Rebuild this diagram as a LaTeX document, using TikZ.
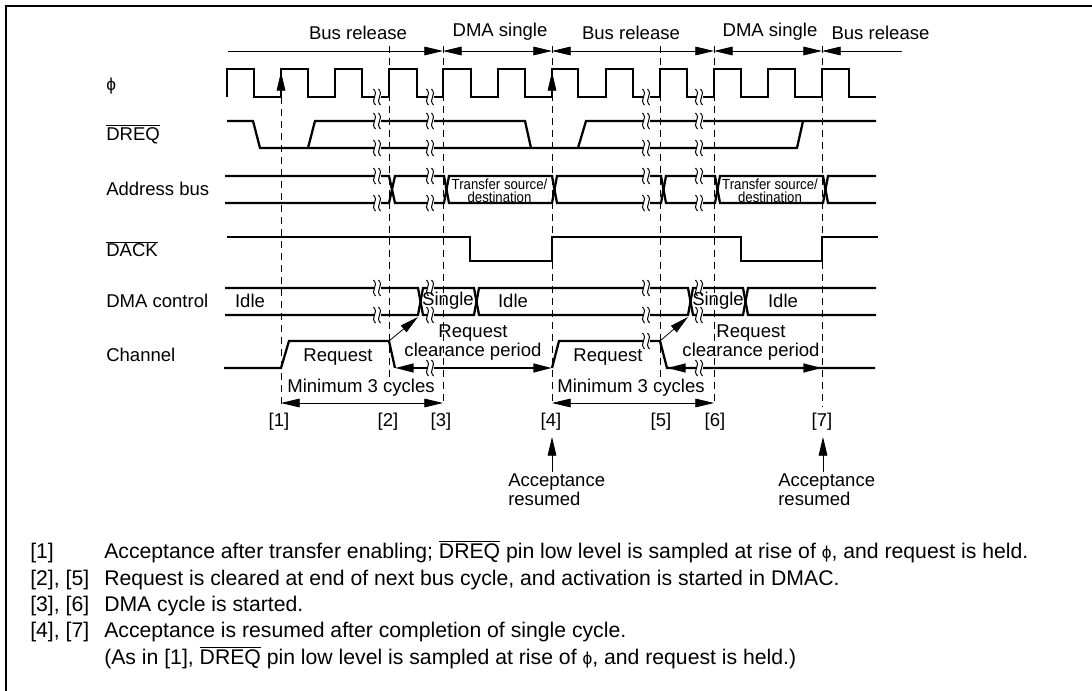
\documentclass[tikz,border=0pt]{standalone}
\usepackage{fontspec}
\setmainfont{Liberation Sans}
\usetikzlibrary{arrows.meta}
\newcommand{\ovl}[1]{$\overline{\hbox{#1}}$}
\newcommand{\phisym}{{\fontsize{13pt}{13pt}\selectfont ϕ}}
\tikzset{
  sig/.style={line width=1.7pt,line cap=butt,line join=miter,black},
  guide/.style={line width=.75pt,dash pattern=on 5pt off 4pt},
  thin arrow/.style={line width=.6pt,{Triangle[length=14pt,width=6.5pt]}-{Triangle[length=14pt,width=6.5pt]}},
  thick arrow/.style={line width=1.7pt,{Triangle[length=14pt,width=6.5pt]}-{Triangle[length=14pt,width=6.5pt]}},
  one arrow/.style={line width=.6pt,-{Triangle[length=14pt,width=6.5pt]}},
  txt/.style={font=\fontsize{13.9pt}{14.4pt}\selectfont,inner sep=0pt,align=center},
  lft/.style={txt,anchor=west},
  note/.style={font=\fontsize{15.9pt}{17pt}\selectfont,inner sep=0pt,anchor=base west},
  small/.style={font=\fontsize{11pt}{9.4pt}\selectfont,inner sep=0pt,align=center,xscale=.9,transform shape},
  brk/.pic={
    \fill[white] (-3.5,-6) rectangle (3.5,6);
    \draw[line width=.75pt] (-3.5,-8) .. controls (-1,-5) and (-1,-3) .. (-2.5,0) .. controls (-4,3) and (-4,5) .. (-1.5,8);
    \draw[line width=.75pt] (1.5,-8) .. controls (4,-5) and (4,-3) .. (2.5,0) .. controls (1,3) and (1,5) .. (3.5,8);
  }
}
\begin{document}
\begin{tikzpicture}[x=.75pt,y=-.75pt]
\useasboundingbox (0,0) rectangle (1092,691);
% frame
\coordinate (ftl) at (6,6.5);
\coordinate (ftr) at (1092,6.5);
\coordinate (fbl) at (6,691);
\draw[line width=1.5pt] (fbl) -- (ftl) -- (ftr);
% guides
\draw[guide] (281,97) -- (281,407);
\draw[guide] (389,46) -- (389,378);
\draw[guide] (443,46) -- (443,403);
\draw[guide] (552,46) -- (552,405);
\draw[guide] (660,46) -- (660,378);
\draw[guide] (714,46) -- (714,403);
\draw[guide] (822,46) -- (822,407);
% phase arrows
\coordinate (a0) at (228,51); \coordinate (a1) at (443,51); \coordinate (a2) at (552,51);
\coordinate (a3) at (714,51); \coordinate (a4) at (822,51); \coordinate (a5) at (902,51);
\draw[one arrow] (a0) -- (a1);
\draw[thin arrow] (a1) -- (a2);
\draw[thin arrow] (a2) -- (a3);
\draw[thin arrow] (a3) -- (a4);
\draw[one arrow] (a5) -- (a4);
\node[txt] (t1) at (358,33) {Bus release};
\node[txt] (t2) at (500,32) {DMA single};
\node[txt] (t3) at (631,33) {Bus release};
\node[txt] (t4) at (770,32) {DMA single};
\node[txt] (t5) at (880.5,33) {Bus release};
% row labels
\node[lft] (lphi) at (106,86) {\phisym};
\node[lft] (ldreq) at (106,134) {\ovl{DREQ}};
\node[lft] (laddr) at (106,189) {Address bus};
\node[lft] (ldack) at (106,249) {\ovl{DACK}};
\node[lft] (lctrl) at (106,301) {DMA control};
\node[lft] (lchan) at (106,355) {Channel};
% clock
\draw[sig] (227,97) |- (254,69) |- (281,97) |- (308,69) |- (335,97) |- (362,69) |- (389,97)
  |- (417,69) |- (443,97) |- (471,69) |- (498,97) |- (525,69) |- (552,97) |- (578,69) |- (606,97)
  |- (633,69) |- (660,97) |- (687,69) |- (714,97) |- (741,69) |- (768,97) |- (795,69) |- (822,97)
  |- (849,69) |- (876,97);
% DREQ
\draw[sig] (227,121) -- (253,121) -- (260,148) -- (797,148) -- (803,121);
\draw[sig] (308,148) -- (315,121) -- (525,121) -- (531,148);
\draw[sig] (578,148) -- (586,121) -- (876,121);
% Address bus
\draw[sig] (225,176) -- (389,176) -- (395,203) -- (444,203) -- (449,176) -- (552,176) -- (557,203)
  -- (661,203) -- (666,176) -- (715,176) -- (720,203) -- (823,203) -- (828,176) -- (876,176);
\draw[sig] (225,203) -- (389,203) -- (395,176) -- (444,176) -- (449,203) -- (552,203) -- (557,176)
  -- (661,176) -- (666,203) -- (715,203) -- (720,176) -- (823,176) -- (828,203) -- (876,203);
% DACK
\draw[sig] (227,237) -| (470,261) -| (552,237) -| (741,261) -| (822,237) -- (878,237);
% DMA control
\draw[sig] (225,288) -- (418,288) -- (423,315) -- (474,315) -- (479,288) -- (688,288) -- (693,315)
  -- (743,315) -- (748,288) -- (876,288);
\draw[sig] (225,315) -- (418,315) -- (423,288) -- (474,288) -- (479,315) -- (688,315) -- (693,288)
  -- (743,288) -- (748,315) -- (876,315);
% Channel
\draw[sig] (224,368) -- (281,368) -- (289,341) -- (389,341) -- (395,368);
\draw[sig] (552,368) -- (559,341) -- (660,341) -- (667,368) -- (875,368);
\coordinate (c1) at (395,368); \coordinate (c2) at (552,368); \coordinate (c3) at (667,368); \coordinate (c4) at (822,368);
\draw[thick arrow] (c1) -- (c2);
\draw[thick arrow] (c3) -- (c4);
% breaks
\foreach \x/\y in {377/97,430/97,646/97,699/97,
  377/121,430/121,646/121,699/121,377/148,430/148,646/148,699/148,
  377/176,430/176,646/176,699/176,377/203,430/203,646/203,699/203,
  377/288,430/288,646/288,699/288,377/315,430/315,646/315,699/315,
  646/341,430/368,699/368}
  \pic at (\x,\y) {brk};
% clock sampling arrows
\coordinate (s1) at (281,97); \coordinate (s1t) at (281,72);
\coordinate (s2) at (552,97); \coordinate (s2t) at (552,72);
\draw[one arrow] (s1) -- (s1t);
\draw[one arrow] (s2) -- (s2t);
% request to single arrows
\coordinate (q1) at (389,341); \coordinate (q1t) at (418,317);
\coordinate (q2) at (660,341); \coordinate (q2t) at (688,317);
\draw[one arrow] (q1) -- (q1t);
\draw[one arrow] (q2) -- (q2t);
% Minimum 3 cycles
\coordinate (m1) at (281,403); \coordinate (m2) at (443,403); \coordinate (m3) at (552,403); \coordinate (m4) at (714,403);
\draw[thin arrow] (m1) -- (m2);
\draw[thin arrow] (m3) -- (m4);
\node[txt] (min1) at (361,388) {Minimum 3 cycles};
\node[txt] (min2) at (631,388) {Minimum 3 cycles};
% in-signal text
\node[small] (tr1) at (499.5,190.5) {Transfer source/\\destination};
\node[small] (tr2) at (770,190.5) {Transfer source/\\destination};
\node[txt] (idle1) at (250,301) {Idle};
\node[txt] (sing1) at (448,301) {Single};
\node[txt] (idle2) at (513,301) {Idle};
\node[txt] (sing2) at (718,301) {Single};
\node[txt] (idle3) at (783,301) {Idle};
\node[txt] (req1) at (338,357) {Request};
\node[txt] (req2) at (608,357) {Request};
\node[txt] (clr1) at (473,342.5) {Request\\clearance period};
\node[txt] (clr2) at (751,342.5) {Request\\clearance period};
% numbers
\node[txt] (n1) at (279,422) {[1]};
\node[txt] (n2) at (388,422) {[2]};
\node[txt] (n3) at (441,422) {[3]};
\node[txt] (n4) at (551,422) {[4]};
\node[txt] (n5) at (661,422) {[5]};
\node[txt] (n6) at (715,422) {[6]};
\node[txt] (n7) at (822,422) {[7]};
% acceptance
\coordinate (u1) at (552,472); \coordinate (u1t) at (552,437);
\coordinate (u2) at (823,472); \coordinate (u2t) at (823,437);
\draw[one arrow] (u1) -- (u1t);
\draw[one arrow] (u2) -- (u2t);
\node[txt,align=left,anchor=north west] (acc1) at (508,473) {Acceptance\\resumed};
\node[txt,align=left,anchor=north west] (acc2) at (778,473) {Acceptance\\resumed};
% notes
\node[note] (k1) at (30,558) {[1]};
\node[note] (v1) at (104,558) {Acceptance after transfer enabling; \ovl{DREQ} pin low level is sampled at rise of \phisym, and request is held.};
\node[note] (k2) at (30,585) {[2], [5]};
\node[note] (v2) at (104,585) {Request is cleared at end of next bus cycle, and activation is started in DMAC.};
\node[note] (k3) at (30,611) {[3], [6]};
\node[note] (v3) at (104,611) {DMA cycle is started.};
\node[note] (k4) at (30,637) {[4], [7]};
\node[note] (v4) at (104,637) {Acceptance is resumed after completion of single cycle.};
\node[note] (v5) at (104,664) {(As in [1], \ovl{DREQ} pin low level is sampled at rise of \phisym, and request is held.)};
\end{tikzpicture}
\end{document}
